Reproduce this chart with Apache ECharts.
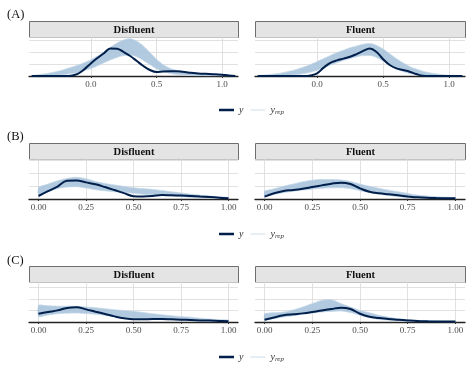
<!DOCTYPE html>
<html><head><meta charset="utf-8">
<script src="https://cdn.jsdelivr.net/npm/echarts@6/dist/echarts.min.js"></script>
<style>html,body{margin:0;padding:0;background:#fff}#c{width:474px;height:379px}</style>
</head><body><div id="c"></div>
<script>
// ---------- data ----------
const rowLabels = ['(A)', '(B)', '(C)'];
const facetNames = ['Disfluent', 'Fluent'];
const legendNames = ['y', 'yrep'];

const ticksA = [0, 0.5, 1.0];
const tickLabelsA = ['0.0', '0.5', '1.0'];
const ticksBC = [0, 0.25, 0.5, 0.75, 1.0];
const tickLabelsBC = ['0.00', '0.25', '0.50', '0.75', '1.00'];

const xA = [-0.45,-0.40,-0.35,-0.30,-0.25,-0.20,-0.15,-0.10,-0.05,0.00,0.05,0.10,0.15,0.20,0.25,0.30,0.35,0.40,0.45,0.50,0.55,0.60,0.65,0.70,0.75,0.80,0.85,0.90,0.95,1.00,1.05,1.10];
const xBC = [0,0.05,0.10,0.15,0.20,0.25,0.30,0.35,0.40,0.45,0.50,0.55,0.60,0.65,0.70,0.75,0.80,0.85,0.90,0.95,1.00];

// Row A - Disfluent
const aDisY  = [0,0,0,0,0,0,0.02,0.17,0.55,1.05,1.5,1.9,2.3,2.28,2.0,1.67,1.25,0.83,0.5,0.33,0.38,0.4,0.4,0.35,0.28,0.22,0.19,0.17,0.14,0.11,0.05,0.01];
const aDisHi = [0.05,0.1,0.18,0.28,0.4,0.55,0.72,0.9,1.1,1.35,1.65,2.0,2.4,2.75,3.0,3.1,2.9,2.5,1.95,1.4,0.95,0.65,0.48,0.37,0.28,0.22,0.18,0.14,0.11,0.08,0.05,0.03];
const aDisLo = [0,0.01,0.02,0.04,0.07,0.12,0.2,0.3,0.45,0.62,0.85,1.1,1.35,1.55,1.7,1.75,1.6,1.3,0.95,0.6,0.38,0.22,0.13,0.08,0.05,0.03,0.02,0.01,0.01,0,0,0];
// Row A - Fluent
const aFluY  = [0,0,0,0,0,0,0,0,0.05,0.22,0.7,1.1,1.3,1.45,1.6,1.83,2.1,2.3,2.0,1.4,0.92,0.64,0.5,0.36,0.17,0.02,0,0,0,0,0,0];
const aFluHi = [0.05,0.08,0.13,0.2,0.3,0.42,0.57,0.75,0.95,1.2,1.45,1.7,1.95,2.15,2.35,2.5,2.65,2.7,2.55,2.25,1.85,1.45,1.1,0.8,0.58,0.4,0.27,0.18,0.11,0.06,0.03,0.01];
const aFluLo = [0,0,0.01,0.02,0.04,0.07,0.12,0.2,0.32,0.48,0.68,0.9,1.1,1.3,1.45,1.6,1.7,1.7,1.55,1.25,0.9,0.6,0.38,0.22,0.12,0.06,0.03,0.01,0,0,0,0];
// Row B - Disfluent
const bDisY  = [0.23,0.6,0.95,1.4,1.42,1.28,1.13,0.92,0.69,0.45,0.22,0.2,0.23,0.3,0.28,0.26,0.23,0.19,0.15,0.1,0.05];
const bDisHi = [0.9,1.15,1.4,1.58,1.67,1.55,1.35,1.2,1.08,0.97,0.87,0.8,0.74,0.65,0.56,0.47,0.38,0.3,0.23,0.17,0.12];
const bDisLo = [0.3,0.55,0.8,0.92,0.95,0.85,0.72,0.63,0.56,0.5,0.44,0.37,0.31,0.27,0.23,0.18,0.13,0.1,0.08,0.05,0.03];
// Row B - Fluent
const bFluY  = [0.18,0.44,0.62,0.69,0.79,0.92,1.05,1.18,1.26,1.15,0.82,0.56,0.44,0.36,0.28,0.2,0.13,0.09,0.07,0.06,0.05];
const bFluHi = [0.6,0.78,0.98,1.15,1.33,1.45,1.5,1.5,1.46,1.35,1.15,0.98,0.82,0.68,0.56,0.43,0.3,0.23,0.18,0.14,0.1];
const bFluLo = [0.23,0.36,0.49,0.6,0.69,0.76,0.82,0.86,0.87,0.8,0.64,0.5,0.38,0.27,0.18,0.13,0.1,0.07,0.05,0.04,0.03];
// Row C - Disfluent
const cDisY  = [0.72,0.87,1.01,1.22,1.28,1.1,0.9,0.7,0.49,0.32,0.23,0.23,0.26,0.26,0.23,0.2,0.17,0.14,0.12,0.09,0.06];
const cDisHi = [1.45,1.42,1.38,1.37,1.36,1.31,1.25,1.16,1.07,1.0,0.93,0.83,0.72,0.63,0.55,0.48,0.41,0.33,0.26,0.21,0.17];
const cDisLo = [0.45,0.6,0.72,0.76,0.78,0.73,0.67,0.58,0.49,0.42,0.35,0.3,0.26,0.23,0.2,0.17,0.14,0.11,0.09,0.07,0.06];
// Row C - Fluent
const cFluY  = [0.2,0.4,0.58,0.67,0.75,0.87,1.01,1.13,1.25,1.13,0.72,0.46,0.35,0.26,0.2,0.14,0.09,0.06,0.04,0.04,0.04];
const cFluHi = [0.72,0.8,0.87,1.05,1.3,1.6,1.88,1.94,1.6,1.3,1.01,0.8,0.58,0.42,0.29,0.2,0.14,0.11,0.09,0.06,0.04];
const cFluLo = [0.14,0.3,0.43,0.55,0.67,0.78,0.87,0.92,0.96,0.82,0.58,0.38,0.23,0.16,0.12,0.08,0.06,0.04,0.03,0.02,0.01];

// ---------- layout / style ----------
const FONT = 'Liberation Serif';
const DARK = '#011f4b';
const BAND = '#a8c4dc';
const REP = '#c3d7e8';
const cols = [{left: 29, width: 209}, {left: 255, width: 210}];
const rows = [
  {top: 37, height: 39, xmin: -0.47, xmax: 1.12, ymax: 3.25, ticks: ticksA, labels: tickLabelsA, lab: 16, leg: 105},
  {top: 159, height: 40, xmin: -0.05, xmax: 1.05, ymax: 3.08, ticks: ticksBC, labels: tickLabelsBC, lab: 138, leg: 229},
  {top: 282, height: 40, xmin: -0.05, xmax: 1.05, ymax: 3.48, ticks: ticksBC, labels: tickLabelsBC, lab: 262, leg: 352}
];
const panels = [
  {r: 0, c: 0, x: xA, y: aDisY, hi: aDisHi, lo: aDisLo},
  {r: 0, c: 1, x: xA, y: aFluY, hi: aFluHi, lo: aFluLo},
  {r: 1, c: 0, x: xBC, y: bDisY, hi: bDisHi, lo: bDisLo},
  {r: 1, c: 1, x: xBC, y: bFluY, hi: bFluHi, lo: bFluLo},
  {r: 2, c: 0, x: xBC, y: cDisY, hi: cDisHi, lo: cDisLo},
  {r: 2, c: 1, x: xBC, y: cFluY, hi: cFluHi, lo: cFluLo}
];
const STRIP_H = 16;

const pairs = (xs, ys) => xs.map((v, i) => [v, ys[i]]);

const grid = [], xAxis = [], yAxis = [], series = [], graphic = [], legend = [];

panels.forEach((p, i) => {
  const R = rows[p.r], C = cols[p.c];
  grid.push({left: C.left, top: R.top, width: C.width, height: R.height, containLabel: false});
  xAxis.push({
    type: 'value', gridIndex: i, min: R.xmin, max: R.xmax,
    axisLine: {show: true, lineStyle: {color: '#222', width: 1.3}},
    axisTick: {show: true, length: 2, lineStyle: {color: '#333'}, customValues: R.ticks},
    axisLabel: {show: true, customValues: R.ticks, margin: 4, color: '#4d4d4d', fontFamily: FONT, fontSize: 9,
      formatter: v => { const k = R.ticks.findIndex(t => Math.abs(t - v) < 1e-9); return k >= 0 ? R.labels[k] : ''; }},
    splitLine: {show: true, lineStyle: {color: '#d9d9d9', width: 0.8}}
  });
  yAxis.push({
    type: 'value', gridIndex: i, min: 0, max: R.ymax, interval: 1,
    axisLine: {show: false}, axisTick: {show: false}, axisLabel: {show: false},
    splitLine: {show: true, lineStyle: {color: '#d9d9d9', width: 0.8}}
  });
  // yrep band
  series.push({
    type: 'custom', xAxisIndex: i, yAxisIndex: i, silent: true, clip: true, z: 1,
    data: [[p.x[0], p.lo[0]]],
    renderItem: (params, api) => {
      const pts = [];
      for (let k = 0; k < p.x.length; k++) pts.push(api.coord([p.x[k], p.hi[k]]));
      for (let k = p.x.length - 1; k >= 0; k--) pts.push(api.coord([p.x[k], p.lo[k]]));
      return {type: 'polygon', shape: {points: pts, smooth: 0.25}, style: {fill: BAND, opacity: 0.9}};
    }
  });
  ['hi', 'lo'].forEach(key => series.push({
    type: 'line', name: 'yrep', xAxisIndex: i, yAxisIndex: i, data: pairs(p.x, p[key]),
    symbol: 'none', showSymbol: false, smooth: 0.4, silent: true, z: 2,
    lineStyle: {color: REP, width: 0.7}, itemStyle: {color: REP}
  }));
  series.push({
    type: 'line', name: 'y', xAxisIndex: i, yAxisIndex: i, data: pairs(p.x, p.y),
    symbol: 'none', showSymbol: false, smooth: 0.4, silent: true, z: 3,
    lineStyle: {color: DARK, width: 2}, itemStyle: {color: DARK}
  });
  // strip
  graphic.push({
    type: 'group', left: C.left, top: R.top - STRIP_H, children: [
      {type: 'rect', shape: {x: 0, y: 0, width: C.width, height: STRIP_H},
       style: {fill: '#e4e4e4', stroke: '#6e6e6e', lineWidth: 1}},
      {type: 'text', x: C.width / 2, y: STRIP_H / 2 + 0.5,
       style: {text: facetNames[p.c], fill: '#111', font: 'bold 10.5px "' + FONT + '"', align: 'center', verticalAlign: 'middle'}}
    ]
  });
});

// legend icons: thick line for y, hairline for yrep (bounding points keep the 10px box)
const iconY = 'path://M0,0L0.01,0M0,10L0.01,10M0,3.8H15V6.2H0Z';
const iconRep = 'path://M0,0L0.01,0M0,10L0.01,10M0,4.6H15V5.4H0Z';

rows.forEach((R, r) => {
  graphic.push({type: 'text', left: 7, top: R.lab - 8,
    style: {text: rowLabels[r], fill: '#111', font: '12.5px "' + FONT + '"'}});
  legend.push({
    left: 219, top: R.leg, padding: 0, itemWidth: 15, itemHeight: 10, itemGap: 7,
    data: [{name: legendNames[0], icon: iconY, itemStyle: {color: DARK}},
           {name: legendNames[1], icon: iconRep, itemStyle: {color: '#d0e0ee'}}],
    selectedMode: false,
    textStyle: {color: '#333', fontFamily: FONT,
      rich: {i: {fontStyle: 'italic', fontSize: 10, fontFamily: FONT, color: '#333'},
             s: {fontStyle: 'italic', fontSize: 7, fontFamily: FONT, color: '#333', padding: [5, 0, 0, 0]}}},
    formatter: n => n === 'y' ? '{i|y}' : '{i|y}{s|rep}'
  });
});

const chart = echarts.init(document.getElementById('c'), null, {renderer: 'canvas'});
chart.setOption({animation: false, backgroundColor: '#fff', grid, xAxis, yAxis, series, graphic, legend});
</script></body></html>
